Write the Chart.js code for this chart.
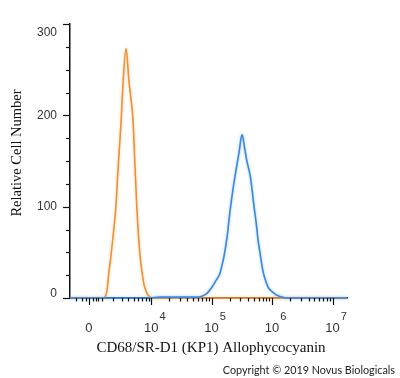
<!DOCTYPE html>
<html>
<head>
<meta charset="utf-8">
<script src="https://cdn.jsdelivr.net/npm/chart.js@4.4.1/dist/chart.umd.min.js"></script>
<style>
  html, body { margin: 0; padding: 0; background: #fff; }
  #wrap { width: 400px; height: 378px; }
</style>
</head>
<body>
<div id="wrap"><canvas id="hist"></canvas></div>
<script>
// ---- data (x = fluorescence intensity, y = cell count) ----
const controlX = [-1480, 0, 1050, 1220, 1400, 1580, 1770, 1970, 2300, 2540, 2920, 3200, 3640, 4120, 4470, 4850, 5260, 5700, 6450, 6960, 7530, 8150, 8810, 9520, 10700, 1.73e7];
const controlY = [0, 0, 0, 1, 8, 29, 46, 66, 101, 141, 192, 236, 273, 237, 218, 196, 146, 97, 47, 29, 15, 8, 3, 1, 0, 0];

const cd68X = [-1480, 9520, 14000, 20500, 30000, 44000, 55000, 69500, 84000, 102000, 118000, 138000, 149000, 161000, 180000, 202000, 226000, 254000, 284000, 319000, 358000, 386000, 432000, 467000, 504000, 543000, 586000, 633000, 709000, 765000, 858000, 999000, 1209000, 1462000, 1767000, 1.73e7];
const cd68Y = [0, 0, 1, 1, 1, 1, 1, 2, 5, 12, 19, 27, 36, 46, 66, 95, 119, 140, 159, 179, 161, 149, 135, 119, 100, 84, 64, 49, 29, 21, 12, 7, 3, 1, 0, 0];

const yTicks = [0, 100, 200, 300];
const xMajor = [0, 1e4, 1e5, 1e6, 1e7];
const xExp   = [null, 4, 5, 6, 7];
const xMinor = [-1000, -500, -200, 300, 500, 700,
  1000, 2000, 3000, 4000, 5000, 6000, 7000, 8000, 9000,
  2e4, 3e4, 4e4, 5e4, 6e4, 7e4, 8e4, 9e4,
  2e5, 3e5, 4e5, 5e5, 6e5, 7e5, 8e5, 9e5,
  2e6, 3e6, 4e6, 5e6, 6e6, 7e6, 8e6, 9e6];
const xMin = -1480, xMax = 1.73e7;

// biexponential (arcsinh) display transform
const W = 1886;
const bx = v => Math.asinh(v / W) / Math.LN10;

const toPts = (xs, ys) => xs.map((v, i) => ({ x: bx(v), y: ys[i] }));

const glow = {
  id: 'glow',
  beforeDatasetDraw(chart, args) {
    const ctx = chart.ctx;
    ctx.save();
    ctx.shadowColor = args.index === 0 ? 'rgba(120,180,240,0.7)' : 'rgba(250,190,120,0.7)';
    ctx.shadowBlur = 3;
  },
  afterDatasetDraw(chart) { chart.ctx.restore(); }
};

const axisDeco = {
  id: 'axisDeco',
  afterDraw(chart) {
    const { ctx, chartArea: a } = chart;
    const x = chart.scales.x, y = chart.scales.y;
    ctx.save();
    ctx.strokeStyle = '#111';
    ctx.lineWidth = 1.2;
    const tick = (x1, y1, x2, y2) => { ctx.beginPath(); ctx.moveTo(x1, y1); ctx.lineTo(x2, y2); ctx.stroke(); };

    for (let v = 0; v <= 300; v += 25) {
      const py = Math.round(y.getPixelForValue(v)) + 0.5;
      tick(a.left, py, a.left - (v % 100 === 0 ? 7 : 4), py);
    }
    xMinor.forEach(v => {
      const px = Math.round(x.getPixelForValue(bx(v))) + 0.5;
      tick(px, a.bottom, px, a.bottom + 3.5);
    });
    xMajor.forEach(v => {
      const px = Math.round(x.getPixelForValue(bx(v))) + 0.5;
      tick(px, a.bottom, px, a.bottom + 7);
    });

    // y tick labels
    ctx.fillStyle = '#333';
    ctx.font = '12px "Liberation Sans", Arial, sans-serif';
    ctx.textAlign = 'right';
    ctx.textBaseline = 'middle';
    yTicks.forEach(v => {
      let py = y.getPixelForValue(v);
      py = Math.min(Math.max(py, a.top + 9), a.bottom - 4);
      ctx.fillText(String(v), a.left - 13, py);
    });

    // x tick labels
    xMajor.forEach((v, i) => {
      const px = x.getPixelForValue(bx(v));
      ctx.textAlign = 'center';
      ctx.font = '13px "Liberation Sans", Arial, sans-serif';
      if (xExp[i] === null) {
        ctx.fillText('0', px, 328);
      } else {
        ctx.fillText('10', px, 328);
        const w = ctx.measureText('10').width;
        ctx.textAlign = 'left';
        ctx.font = '11px "Liberation Sans", Arial, sans-serif';
        ctx.fillText(String(xExp[i]), px + w / 2 + 1, 317);
      }
    });

    // axis titles
    ctx.fillStyle = '#111';
    ctx.font = '15px "Liberation Serif", "Times New Roman", serif';
    ctx.textAlign = 'center';
    ctx.fillText('CD68/SR-D1 (KP1) Allophycocyanin', 211, 348);
    ctx.save();
    ctx.translate(17, 153);
    ctx.rotate(-Math.PI / 2);
    ctx.font = '14.5px "Liberation Serif", "Times New Roman", serif';
    ctx.fillText('Relative Cell Number', 0, 0);
    ctx.restore();

    ctx.fillStyle = '#222';
    ctx.font = '10.8px Lato, sans-serif';
    ctx.textAlign = 'right';
    ctx.fillText('Copyright \u00A9 2019 Novus Biologicals', 395, 371);
    ctx.restore();
  }
};

new Chart(document.getElementById('hist'), {
  type: 'line',
  data: {
    datasets: [
      { label: 'CD68/SR-D1', data: toPts(cd68X, cd68Y), borderColor: '#3b88da', borderWidth: 1.6,
        pointRadius: 0, cubicInterpolationMode: 'monotone', clip: 4, order: 0 },
      { label: 'Isotype control', data: toPts(controlX, controlY), borderColor: '#ee9038', borderWidth: 1.6,
        pointRadius: 0, cubicInterpolationMode: 'monotone', clip: 4, order: 1 }
    ]
  },
  options: {
    responsive: true, maintainAspectRatio: false, animation: false, events: [],
    layout: { padding: { left: 0, top: 24, right: 53, bottom: 0 } },
    plugins: { legend: { display: false }, tooltip: { enabled: false } },
    scales: {
      x: { type: 'linear', min: bx(xMin), max: bx(xMax),
        ticks: { display: false }, grid: { display: false },
        border: { color: '#111', width: 1.5 },
        afterFit: s => { s.height = 80; } },
      y: { min: 0, max: 300,
        ticks: { display: false }, grid: { display: false },
        border: { color: '#111', width: 1.5 },
        afterFit: s => { s.width = 70; } }
    }
  },
  plugins: [glow, axisDeco]
});
</script>
</body>
</html>
